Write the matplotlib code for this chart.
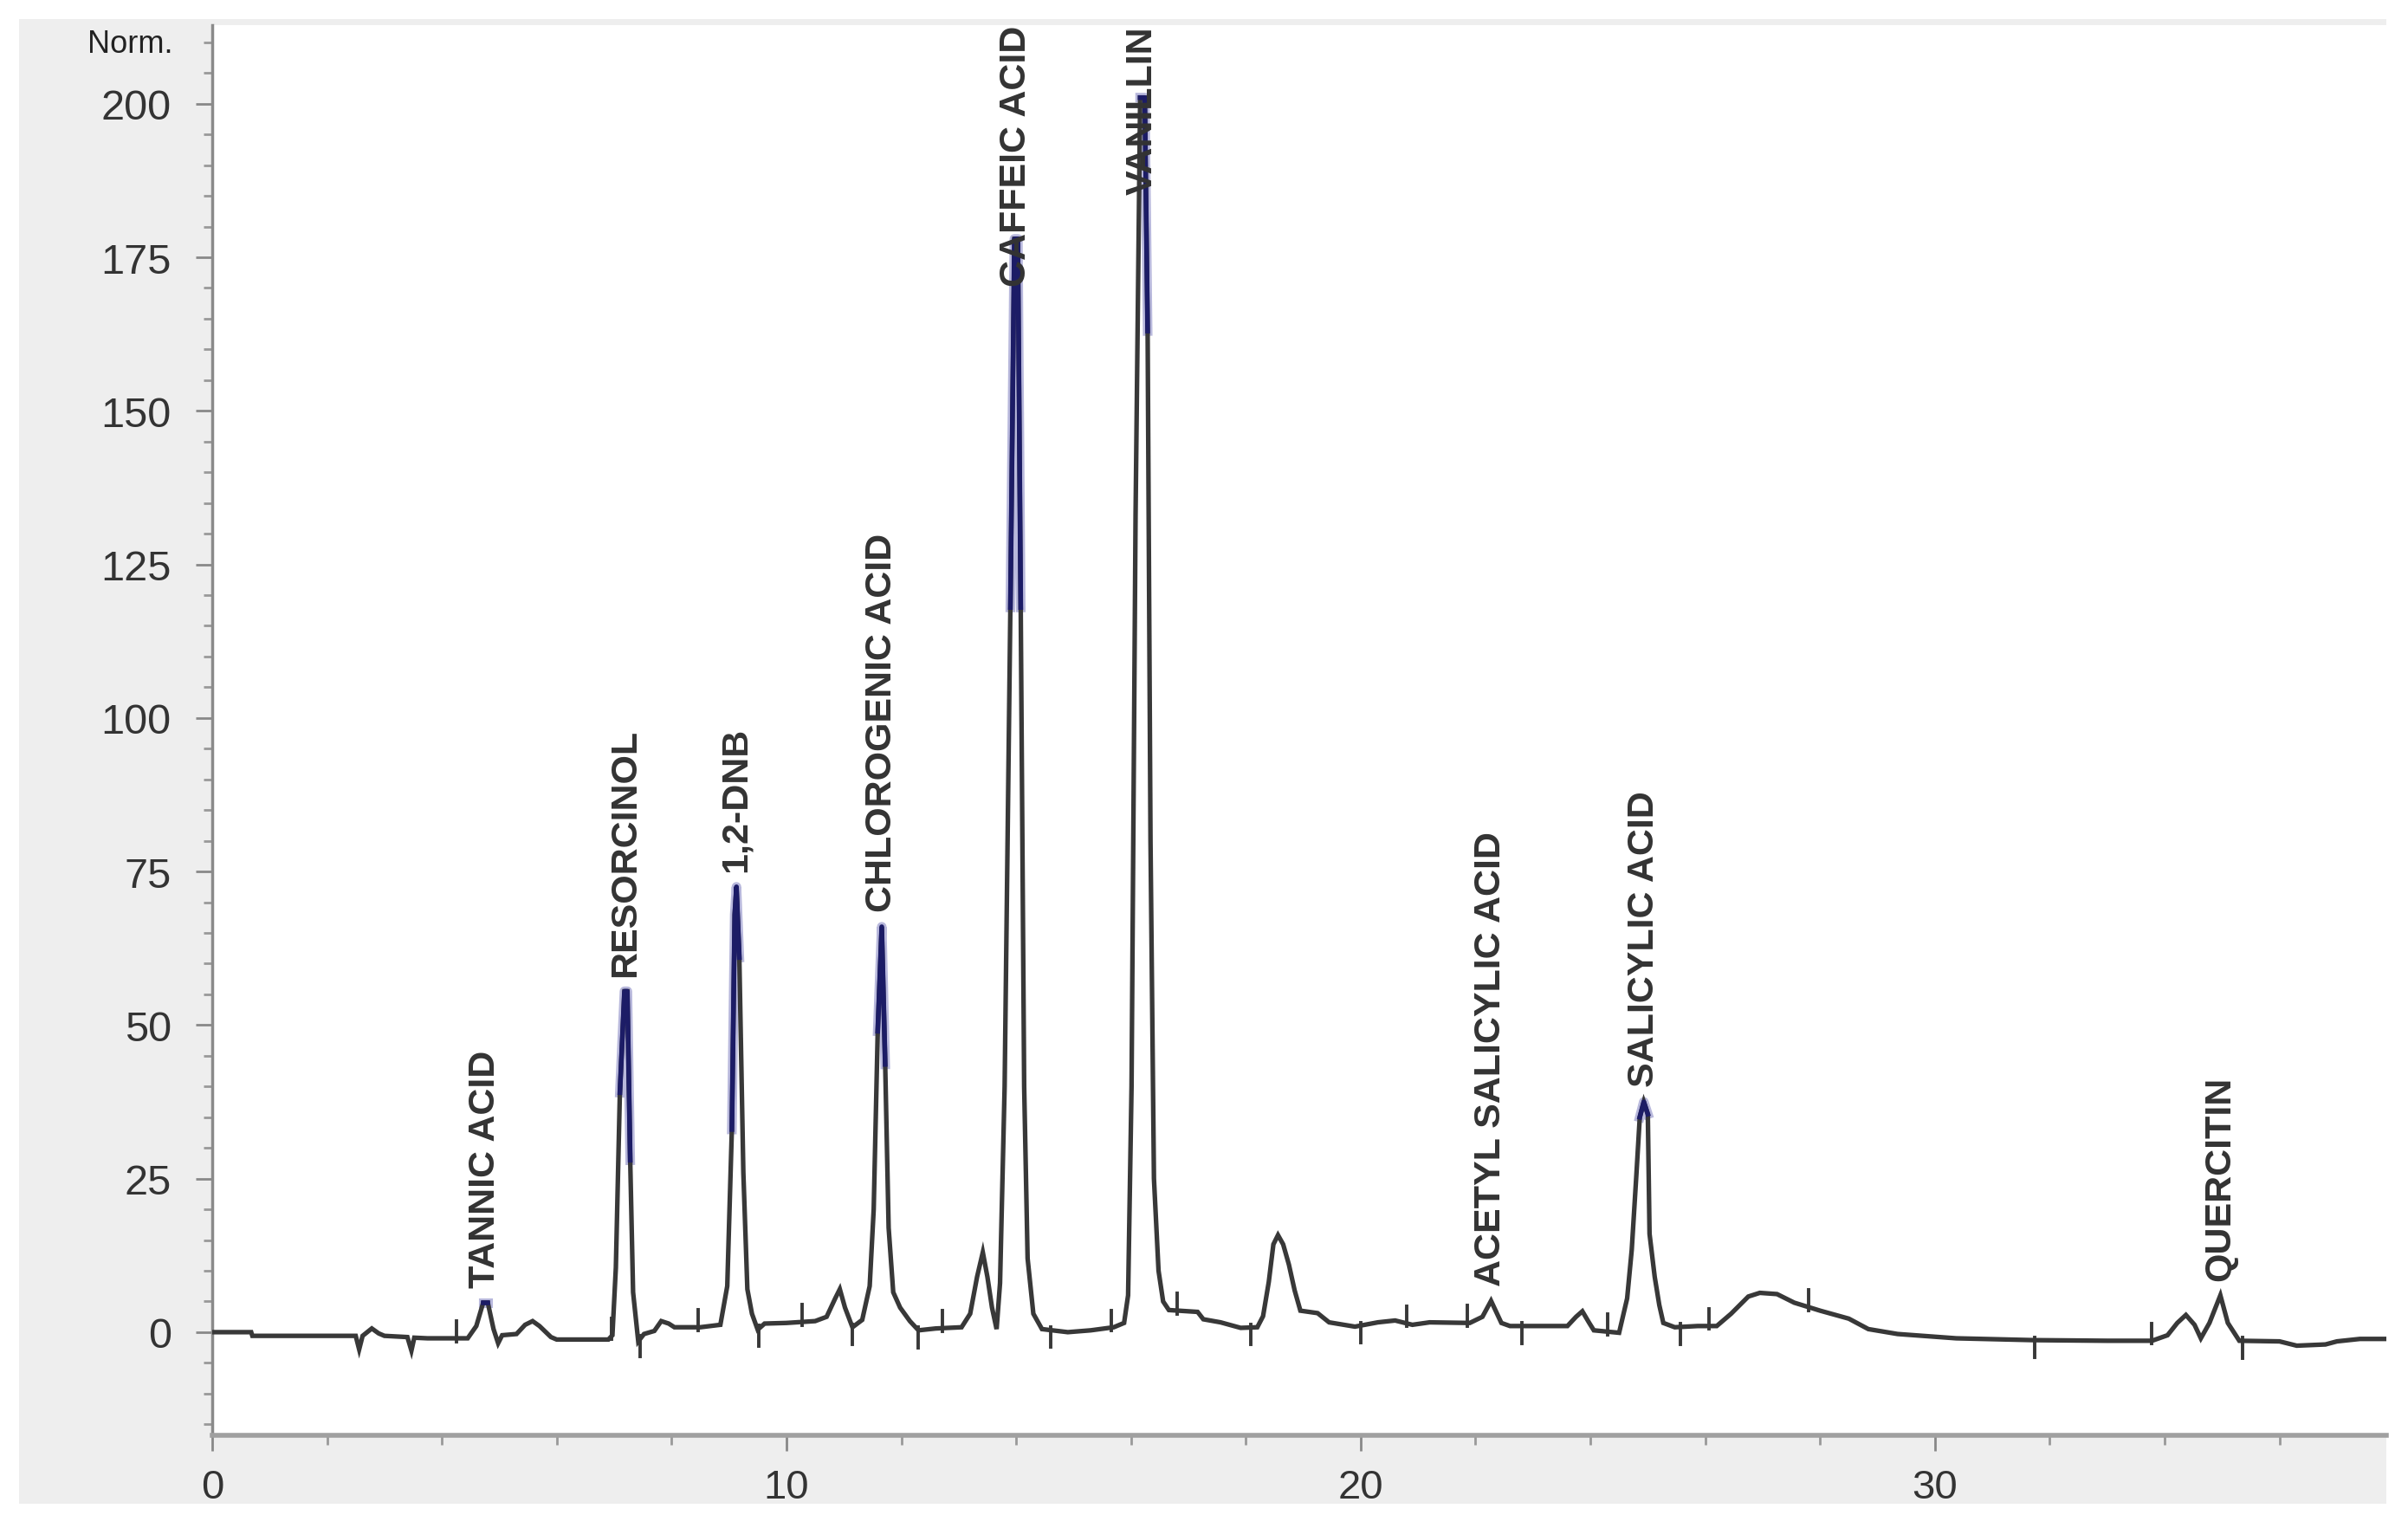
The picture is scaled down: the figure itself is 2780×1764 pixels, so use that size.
import matplotlib.pyplot as plt
import numpy as np
from matplotlib.patches import Rectangle
from matplotlib.ticker import MultipleLocator

plt.rcParams['font.family'] = ['Liberation Sans', 'DejaVu Sans']

# HPLC chromatogram, retention time (min) vs normalised signal
trace_time = [0.00, 0.68, 0.70, 2.50, 2.56, 2.62, 2.78, 2.90, 3.00, 3.40, 3.47, 3.52, 3.75, 4.45,
              4.60, 4.72, 4.80, 4.90, 4.98, 5.05, 5.30, 5.45, 5.58, 5.70, 5.90, 6.00, 6.90, 6.97,
              7.03, 7.10, 7.18, 7.23, 7.28, 7.33, 7.42, 7.52, 7.70, 7.82, 7.95, 8.05, 8.50, 8.85,
              8.97, 9.05, 9.10, 9.13, 9.18, 9.25, 9.32, 9.40, 9.50, 9.62, 10.00, 10.50, 10.70,
              10.85, 10.93, 11.02, 11.15, 11.32, 11.45, 11.52, 11.59, 11.66, 11.72, 11.78, 11.86,
              11.98, 12.15, 12.30, 12.60, 13.05, 13.20, 13.32, 13.42, 13.50, 13.58, 13.66, 13.72,
              13.80, 13.90, 13.97, 14.03, 14.08, 14.14, 14.20, 14.30, 14.45, 14.90, 15.30, 15.70,
              15.88, 15.95, 16.01, 16.08, 16.16, 16.24, 16.29, 16.34, 16.40, 16.48, 16.56, 16.66,
              17.16, 17.26, 17.56, 17.91, 18.20, 18.30, 18.40, 18.48, 18.56, 18.65, 18.75, 18.85,
              18.95, 19.25, 19.45, 19.90, 20.30, 20.60, 20.90, 21.20, 21.90, 22.12, 22.27, 22.45,
              22.60, 23.60, 23.75, 23.86, 23.98, 24.06, 24.50, 24.64, 24.72, 24.80, 24.86, 24.93,
              25.00, 25.03, 25.12, 25.20, 25.27, 25.47, 25.87, 26.20, 26.45, 26.75, 26.95, 27.25,
              27.55, 28.00, 28.50, 28.84, 29.35, 30.37, 31.73, 33.00, 33.78, 34.05, 34.22, 34.37,
              34.52, 34.63, 34.78, 34.97, 35.10, 35.30, 36.00, 36.30, 36.80, 37.00, 37.40, 37.85]
trace_signal = [0.0, 0.0, -0.6, -0.6, -2.8, -0.6, 0.6, -0.2, -0.6, -0.8, -3.0, -0.9, -1.0, -1.0,
                1.0, 4.8, 4.8, 0.5, -1.8, -0.5, -0.3, 1.2, 1.8, 1.0, -0.8, -1.2, -1.2, -0.5,
                10.5, 39.0, 55.5, 55.5, 28.0, 6.5, -1.5, -0.3, 0.2, 1.8, 1.4, 0.8, 0.8, 1.2,
                7.5, 33.0, 68.0, 72.5, 61.0, 26.0, 7.0, 3.0, 0.4, 1.4, 1.5, 1.8, 2.5,
                5.5, 7.0, 4.0, 0.8, 2.0, 7.5, 20.0, 49.0, 66.0, 43.6, 17.0, 6.5,
                4.0, 1.8, 0.3, 0.6, 0.8, 3.0, 9.0, 13.0, 9.0, 4.0, 0.5, 8.0,
                40.0, 118.0, 178.0, 178.0, 118.0, 40.0, 12.0, 3.0, 0.5, 0.0, 0.3, 0.8,
                1.5, 6.0, 40.0, 133.0, 201.0, 201.0, 163.0, 80.0, 25.0, 10.0, 5.0, 3.6,
                3.3, 2.1, 1.6, 0.7, 0.8, 2.6, 8.2, 14.3, 15.8, 14.3, 11.0, 6.8,
                3.5, 3.1, 1.6, 0.9, 1.6, 1.9, 1.2, 1.6, 1.5, 2.5, 5.1, 1.5,
                1.0, 1.0, 2.5, 3.4, 1.5, 0.3, -0.1, 5.5, 13.4, 25.5, 35.0, 37.5,
                35.5, 16.0, 9.0, 4.4, 1.5, 0.8, 1.0, 1.0, 3.0, 5.8, 6.4, 6.2,
                4.8, 3.5, 2.2, 0.5, -0.3, -1.0, -1.3, -1.4, -1.4, -0.5, 1.5, 2.8,
                1.2, -1.0, 1.5, 6.0, 1.5, -1.4, -1.5, -2.2, -2.0, -1.5, -1.1, -1.1]

# identified peaks
peak_names = ['TANNIC ACID', 'RESORCINOL', '1,2-DNB', 'CHLOROGENIC ACID', 'CAFFEIC ACID',
              'VANILLIN', 'ACETYL SALICYLIC ACID', 'SALICYLIC ACID', 'QUERCITIN']
peak_times = [4.76, 7.20, 9.13, 11.66, 14.00, 16.20, 22.27, 24.93, 34.97]
peak_heights = [4.8, 55.5, 72.5, 66.0, 178.0, 201.0, 5.1, 37.5, 6.0]

# integration event marks on the trace
marks_up = [4.25, 6.96, 8.47, 10.28, 12.72, 15.66, 16.80, 20.80, 21.85, 24.30, 26.07, 27.80, 33.78]
marks_down = [7.45, 9.52, 11.15, 12.30, 14.60, 18.08, 20.00, 22.80, 25.56, 31.73, 35.35]

t = np.array(trace_time)
s = np.array(trace_signal)

fig = plt.figure(figsize=(27.8, 17.65), dpi=100)
fig.patches.append(Rectangle((0.008, 0.016), 0.983, 0.971, transform=fig.transFigure,
                             facecolor='#eeeeee', edgecolor='none', zorder=-1))

ax = fig.add_axes([0.0881, 0.0606, 0.9029, 0.9224])
ax.set_facecolor('white')

ax.plot(t, s, color='#383838', lw=3.8, solid_joinstyle='miter', zorder=3)

# navy colour on peak tops
for pt, ph in zip(peak_times, peak_heights):
    m = (np.abs(t - pt) <= 0.12) & (s >= 0.45 * ph)
    if m.sum() > 1:
        ax.plot(t[m], s[m], color='#b8b8dc', lw=8, zorder=2)
        ax.plot(t[m], s[m], color='#1c1c66', lw=4.0, zorder=4)

for x in marks_up:
    y = np.interp(x, t, s)
    ax.plot([x, x], [y - 0.5, y + 2.8], color='#383838', lw=2.8, zorder=3)
for x in marks_down:
    y = np.interp(x, t, s)
    ax.plot([x, x], [y + 0.5, y - 2.8], color='#383838', lw=2.8, zorder=3)

ax.set_xlim(0, 37.86)
ax.set_ylim(-16.8, 212.8)

for side in ['top', 'right']:
    ax.spines[side].set_visible(False)
ax.spines['left'].set_color('#8a8a8a')
ax.spines['left'].set_linewidth(2.5)
ax.spines['bottom'].set_color('#a0a0a0')
ax.spines['bottom'].set_linewidth(4)

ax.xaxis.set_major_locator(MultipleLocator(10))
ax.xaxis.set_minor_locator(MultipleLocator(2))
ax.yaxis.set_major_locator(MultipleLocator(25))
ax.yaxis.set_minor_locator(MultipleLocator(5))
ax.set_yticks(np.arange(0, 201, 25))

ax.tick_params(axis='y', which='major', direction='out', length=14, width=2, color='#888888',
               pad=20, labelsize=35, labelcolor='#333333')
ax.tick_params(axis='y', which='minor', direction='out', length=7, width=2, color='#999999')
ax.tick_params(axis='x', which='major', direction='out', length=13, width=2, color='#888888',
               pad=14, labelsize=34, labelcolor='#333333')
ax.tick_params(axis='x', which='minor', direction='out', length=8, width=2, color='#999999')

ax.text(-0.018, 0.9865, 'Norm.', transform=ax.transAxes, ha='right', va='center',
        fontsize=26, color='#222222')

labels = []
for name, pt, ph in zip(peak_names, peak_times, peak_heights):
    txt = ax.text(pt, ph + 2.5, name, rotation=90, ha='center', va='bottom',
                  fontsize=31, fontweight='bold', color='#333333', zorder=5)
    labels.append(txt)

# push labels that would run past the top down inside the plot
fig.canvas.draw()
ax_top = ax.transAxes.transform((0, 1))[1]
inv = ax.transData.inverted()
for txt in labels:
    bb = txt.get_window_extent()
    if bb.y1 > ax_top:
        new_y = inv.transform((0, bb.y0 - (bb.y1 - ax_top)))[1]
        txt.set_y(new_y)

fig.savefig('out.png', dpi=100)
